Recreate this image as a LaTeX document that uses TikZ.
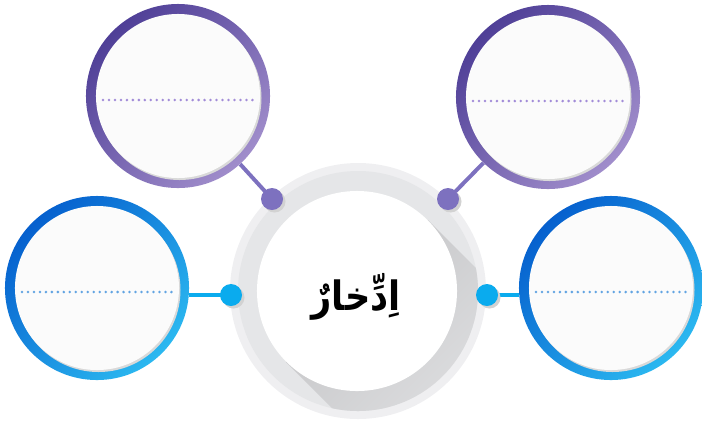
\documentclass[tikz,border=0pt]{standalone}
\usepackage{fontspec}
\newfontfamily\arabicfont[Script=Arabic]{DejaVu Sans}
\TeXXeTstate=1
\definecolor{pdark}{HTML}{4F3F97}
\definecolor{plight}{HTML}{A08DCB}
\definecolor{pknob}{HTML}{7D71BF}
\definecolor{pdot}{HTML}{A28CD8}
\definecolor{bdark}{HTML}{0660CE}
\definecolor{blight}{HTML}{2BB8F0}
\definecolor{bknob}{HTML}{0AABEE}
\definecolor{bdot}{HTML}{62A4E2}
\definecolor{hubrim}{HTML}{EFEFF1}
\definecolor{hubband}{HTML}{E5E6E8}
\definecolor{hubshade}{HTML}{C4C4C6}

\begin{document}
\begin{tikzpicture}[x=0.025cm,y=-0.025cm,
  ring/.style={circle,inner sep=0pt,minimum size=4.6cm},
  pring/.style={ring,top color=pdark,bottom color=plight,shading angle=45},
  bring/.style={ring,top color=bdark,bottom color=blight,shading angle=45},
  face/.style={circle,inner sep=0pt,minimum size=4.1cm,fill=white!97!gray},
  pdots/.style={draw=pdot,line width=2pt,line cap=round,dash pattern=on 0pt off 4.25pt},
  bdots/.style={draw=bdot,line width=2pt,line cap=round,dash pattern=on 0pt off 4.25pt},
  pline/.style={draw=pknob,line width=2.8pt},
  bline/.style={draw=bknob,line width=3.2pt},
  knob/.style={circle,inner sep=0pt,minimum size=0.55cm}]
\useasboundingbox (0,0) rectangle (702,424);
% hub with long shadow
\fill[hubrim] (358,291) circle (128);
\fill[hubband] (358,291) circle (120);
\begin{scope}
\clip (358,291) circle (120);
\shade[top color=hubshade,bottom color=hubband,shading angle=45]
  (428,220) -- (548,340) -- (406,482) -- (286,362) -- cycle;
\end{scope}
\node[face,minimum size=5cm,fill=white] (mid) at (357,291) {};
\node[yscale=1.15] (word) at (356,297)
  {\fontsize{25}{30}\selectfont\arabicfont\bfseries\beginR اِدِّخارٌ\endR};
% outer circles
\foreach \n/\x/\y/\s in {tl/178/96/p,tr/548/97/p,bl/97/288/b,br/611/288/b}{
  \node[\s ring] (\n) at (\x,\y) {};
  \fill[gray!30] (\x+1.5,\y+2) circle (82);
  \node[face] (\n face) at (\x,\y) {};
  \draw[\s dots] ([shift={(-75,4)}]\n.center) -- ([shift={(75,4)}]\n.center);
}
% knobs
\node[knob] (ktl) at (272,199) {};
\node[knob] (ktr) at (448,199) {};
\node[knob] (kbl) at (231,295) {};
\node[knob] (kbr) at (487,295) {};
\draw[pline] (tl) -- (ktl.center);
\draw[pline] (tr) -- (ktr.center);
\draw[bline] (kbl.center) -- (kbl -| bl.east);
\draw[bline] (kbr.center) -- (kbr -| br.west);
\foreach \k/\c in {ktl/pknob,ktr/pknob,kbl/bknob,kbr/bknob}{
  \fill[gray!35] ([shift={(2.5,2.5)}]\k.center) circle (11);
  \fill[\c] (\k.center) circle (11);
}
\end{tikzpicture}
\end{document}
